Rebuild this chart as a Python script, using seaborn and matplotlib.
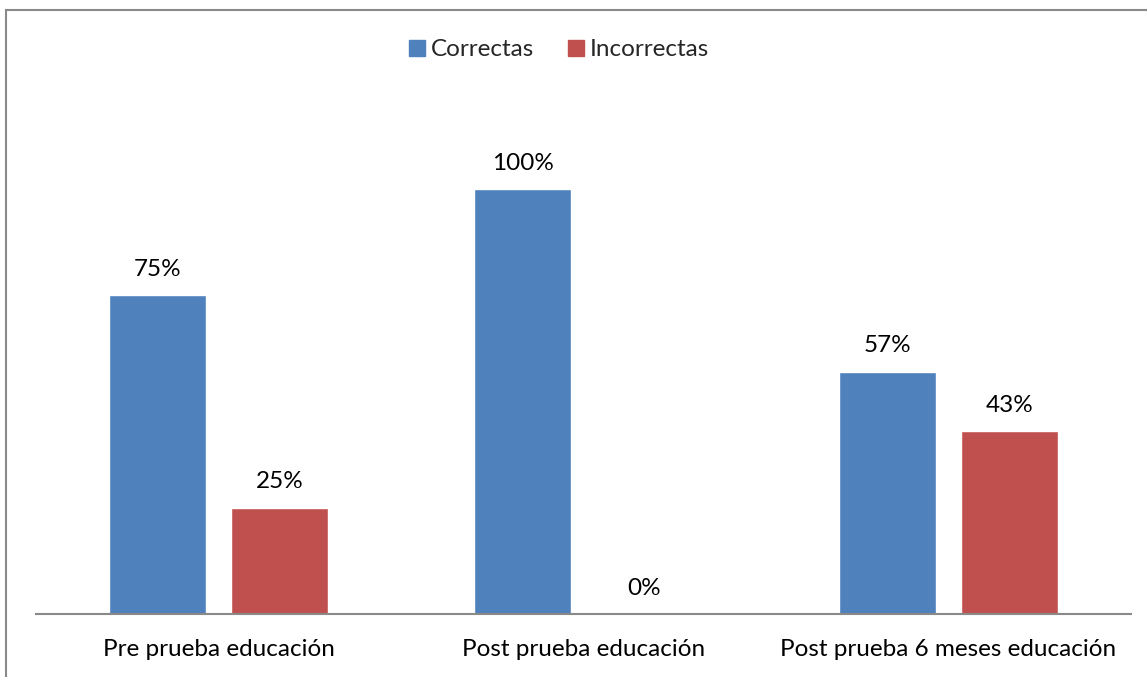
import matplotlib
matplotlib.use("Agg")
import matplotlib.pyplot as plt
from matplotlib.patches import Rectangle
import seaborn as sns
import pandas as pd

categories = ["Pre prueba educación", "Post prueba educación", "Post prueba 6 meses educación"]
series_names = ["Correctas", "Incorrectas"]
correctas = [75, 100, 57]
incorrectas = [25, 0, 43]
colors = ["#4F81BD", "#C0504D"]

df = pd.DataFrame({
    "categoria": categories * 2,
    "respuesta": [series_names[0]] * 3 + [series_names[1]] * 3,
    "valor": correctas + incorrectas,
})

sns.set_theme(style="white")
plt.rcParams["font.family"] = ["Lato", "DejaVu Sans"]

W, H = 1147, 677
fig = plt.figure(figsize=(W / 100, H / 100), dpi=100)

# outer chart frame (runs off the right and bottom edges)
fig.patches.append(Rectangle((6 / W, -0.05), 1.2, 1 - 10 / H + 0.05,
                             transform=fig.transFigure, fill=False,
                             edgecolor="#898989", linewidth=1.5))

ax = fig.add_axes([36 / W, (H - 614) / H, 1095 / W, 510 / H])
sns.barplot(data=df, x="categoria", y="valor", hue="respuesta",
            palette=colors, width=0.667, gap=0.2, saturation=1,
            ax=ax, legend=False)

ax.set_xlim(-0.5, 2.5)
ax.set_ylim(0, 120)
ax.set_xlabel("")
ax.set_ylabel("")
ax.set_yticks([])
for side in ["top", "right", "left"]:
    ax.spines[side].set_visible(False)
ax.spines["bottom"].set_color("#898989")
ax.spines["bottom"].set_linewidth(1.5)
ax.tick_params(axis="x", length=0, pad=18, labelsize=17.5, labelcolor="#000000")
ax.patch.set_alpha(0)

for container in ax.containers:
    ax.bar_label(container, labels=[f"{v:.0f}%" for v in container.datavalues],
                 padding=11, fontsize=17.5, color="#000000")

handles = [Rectangle((0, 0), 1, 1, color=c) for c in colors]
fig.legend(handles, series_names, loc="center", bbox_to_anchor=(559 / W, 1 - 50 / H),
           ncol=2, frameon=False, fontsize=17.5, handlelength=0.65, handleheight=0.65,
           handletextpad=0.25, columnspacing=1.4)

fig.savefig("out.png", dpi=100)
